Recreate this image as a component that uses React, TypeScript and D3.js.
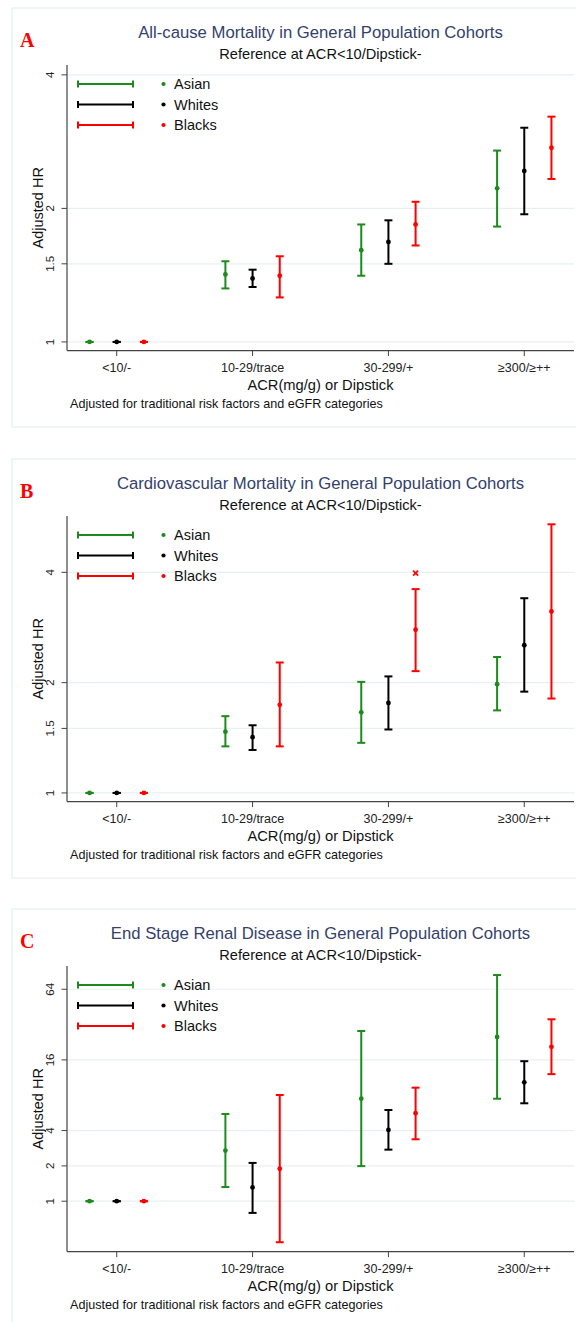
import React from "react";
import * as d3 from "d3";

// categories and series
const categories = ["<10/-", "10-29/trace", "30-299/+", "≥300/≥++"];
const seriesNames = ["Asian", "Whites", "Blacks"];
const seriesColors = ["#1c8a1c", "#000000", "#ff0000"];

// A: all-cause mortality
const aAsianHr = [1, 1.42, 1.61, 2.22];
const aAsianLo = [1, 1.32, 1.41, 1.82];
const aAsianHi = [1, 1.52, 1.84, 2.7];
const aWhitesHr = [1, 1.39, 1.68, 2.43];
const aWhitesLo = [1, 1.33, 1.5, 1.94];
const aWhitesHi = [1, 1.455, 1.88, 3.04];
const aBlacksHr = [1, 1.41, 1.84, 2.74];
const aBlacksLo = [1, 1.26, 1.65, 2.33];
const aBlacksHi = [1, 1.56, 2.07, 3.22];
const aTicks = [1, 1.5, 2, 4];
const aDomain = [0.956, 4.21];

// B: cardiovascular mortality
const bAsianHr = [1, 1.47, 1.66, 1.98];
const bAsianLo = [1, 1.34, 1.37, 1.68];
const bAsianHi = [1, 1.62, 2.01, 2.35];
const bWhitesHr = [1, 1.42, 1.76, 2.53];
const bWhitesLo = [1, 1.31, 1.49, 1.89];
const bWhitesHi = [1, 1.53, 2.08, 3.4];
const bBlacksHr = [1, 1.74, 2.79, 3.13];
const bBlacksLo = [1, 1.34, 2.15, 1.81];
const bBlacksHi = [1, 2.27, 3.6, 5.41];
const bOutlier = [{ cat: 2, series: 2, value: 3.98 }];
const bTicks = [1, 1.5, 2, 4];
const bDomain = [0.947, 5.7];

// C: end stage renal disease
const cAsianHr = [1, 2.7, 7.47, 25.1];
const cAsianLo = [1, 1.32, 1.99, 7.47];
const cAsianHi = [1, 5.54, 28.2, 84.6];
const cWhitesHr = [1, 1.31, 4.05, 10.3];
const cWhitesLo = [1, 0.795, 2.75, 6.83];
const cWhitesHi = [1, 2.12, 5.99, 15.6];
const cBlacksHr = [1, 1.89, 5.62, 20.7];
const cBlacksLo = [1, 0.447, 3.37, 12.1];
const cBlacksHi = [1, 8.04, 9.28, 35.5];
const cTicks = [1, 2, 4, 16, 64];
const cDomain = [0.372, 101];

const panels = [
  {
    letter: "A",
    title: "All-cause Mortality in General Population Cohorts",
    hr: [aAsianHr, aWhitesHr, aBlacksHr],
    lo: [aAsianLo, aWhitesLo, aBlacksLo],
    hi: [aAsianHi, aWhitesHi, aBlacksHi],
    ticks: aTicks,
    domain: aDomain,
    extra: [] as { cat: number; series: number; value: number }[],
    top: 8,
  },
  {
    letter: "B",
    title: "Cardiovascular Mortality in General Population Cohorts",
    hr: [bAsianHr, bWhitesHr, bBlacksHr],
    lo: [bAsianLo, bWhitesLo, bBlacksLo],
    hi: [bAsianHi, bWhitesHi, bBlacksHi],
    ticks: bTicks,
    domain: bDomain,
    extra: bOutlier,
    top: 459,
  },
  {
    letter: "C",
    title: "End Stage Renal Disease in General Population Cohorts",
    hr: [cAsianHr, cWhitesHr, cBlacksHr],
    lo: [cAsianLo, cWhitesLo, cBlacksLo],
    hi: [cAsianHi, cWhitesHi, cBlacksHi],
    ticks: cTicks,
    domain: cDomain,
    extra: [] as { cat: number; series: number; value: number }[],
    top: 909,
  },
];

const font = "'Liberation Sans', Arial, sans-serif";
const W = 576;
const H = 1322;
const left = 67;
const right = 574;

function Panel(props: any) {
  const p = props.panel;
  const axisTop = p.top + 57;
  const axisBottom = p.top + 342.6;

  const x = d3.scaleLinear().domain([0.634, 4.366]).range([left, right]);
  const y = d3.scaleLog().domain(p.domain).range([axisBottom, axisTop]);
  const offset = 0.2;
  const cap = 4;
  const fmt = (v: number) => String(v);

  return (
    <g>
      <rect x={12} y={p.top} width={600} height={419} fill="white" stroke="#e6eef1" strokeWidth={1.2} />
      <text x={20} y={p.top + 39} fill="#ff0000" fontFamily="'Liberation Serif', serif" fontWeight="bold" fontSize={20}>
        {p.letter}
      </text>
      <text x={(left + right) / 2} y={p.top + 30} textAnchor="middle" fill="#34416b" fontFamily={font} fontSize={16.7}>
        {p.title}
      </text>
      <text x={(left + right) / 2} y={p.top + 50.5} textAnchor="middle" fill="#111" fontFamily={font} fontSize={14.6}>
        Reference at ACR&lt;10/Dipstick-
      </text>

      {/* grid and y axis */}
      {p.ticks.map((t: number) => (
        <g key={t}>
          <line x1={left} x2={right} y1={y(t)} y2={y(t)} stroke="#e6f0f3" strokeWidth={1.2} />
          <line x1={left - 5.5} x2={left} y1={y(t)} y2={y(t)} stroke="#444" strokeWidth={1} />
          <text
            transform={`translate(${left - 13},${y(t)}) rotate(-90)`}
            textAnchor="middle"
            fill="#222"
            fontFamily={font}
            fontSize={11.5}
          >
            {fmt(t)}
          </text>
        </g>
      ))}
      <line x1={left} x2={left} y1={axisTop} y2={axisBottom} stroke="#444" strokeWidth={1.2} />
      <line x1={left} x2={right} y1={axisBottom} y2={axisBottom} stroke="#444" strokeWidth={1.2} />
      <text
        transform={`translate(43,${(axisTop + axisBottom) / 2}) rotate(-90)`}
        textAnchor="middle"
        fill="#111"
        fontFamily={font}
        fontSize={14.5}
      >
        Adjusted HR
      </text>

      {/* x axis */}
      {categories.map((c, i) => (
        <g key={c}>
          <line x1={x(i + 1)} x2={x(i + 1)} y1={axisBottom} y2={axisBottom + 5.5} stroke="#444" strokeWidth={1} />
          <text x={x(i + 1)} y={axisBottom + 21} textAnchor="middle" fill="#222" fontFamily={font} fontSize={12.5}>
            {c}
          </text>
        </g>
      ))}
      <text x={(left + right) / 2} y={axisBottom + 39.5} textAnchor="middle" fill="#111" fontFamily={font} fontSize={14.7}>
        ACR(mg/g) or Dipstick
      </text>
      <text x={70} y={axisBottom + 57.5} fill="#111" fontFamily={font} fontSize={12.6}>
        Adjusted for traditional risk factors and eGFR categories
      </text>

      {/* error bars */}
      {seriesNames.map((s, si) =>
        categories.map((c, ci) => {
          const cx = x(ci + 1 + (si - 1) * offset);
          const lo = y(p.lo[si][ci]);
          const hi = y(p.hi[si][ci]);
          const col = seriesColors[si];
          return (
            <g key={s + c}>
              <line x1={cx} x2={cx} y1={lo} y2={hi} stroke={col} strokeWidth={2} />
              <line x1={cx - cap} x2={cx + cap} y1={lo} y2={lo} stroke={col} strokeWidth={2} />
              <line x1={cx - cap} x2={cx + cap} y1={hi} y2={hi} stroke={col} strokeWidth={2} />
              <circle cx={cx} cy={y(p.hr[si][ci])} r={2.4} fill={col} />
            </g>
          );
        })
      )}
      {p.extra.map((e: any, i: number) => {
        const cx = x(e.cat + 1 + (e.series - 1) * offset);
        const cy = y(e.value);
        const col = seriesColors[e.series];
        return (
          <g key={"x" + i} stroke={col} strokeWidth={1.6}>
            <line x1={cx - 2.5} x2={cx + 2.5} y1={cy - 2.5} y2={cy + 2.5} />
            <line x1={cx - 2.5} x2={cx + 2.5} y1={cy + 2.5} y2={cy - 2.5} />
          </g>
        );
      })}

      {/* legend */}
      {seriesNames.map((s, si) => {
        const ly = axisTop + 19 + si * 20.5;
        const col = seriesColors[si];
        return (
          <g key={"leg" + s}>
            <line x1={78} x2={133} y1={ly} y2={ly} stroke={col} strokeWidth={2} />
            <line x1={78} x2={78} y1={ly - 3.5} y2={ly + 3.5} stroke={col} strokeWidth={2} />
            <line x1={133} x2={133} y1={ly - 3.5} y2={ly + 3.5} stroke={col} strokeWidth={2} />
            <circle cx={163.5} cy={ly} r={2.1} fill={col} />
            <text x={174} y={ly + 5} fill="#111" fontFamily={font} fontSize={14.5}>
              {s}
            </text>
          </g>
        );
      })}
    </g>
  );
}

export default function App() {
  return (
    <svg width={W} height={H} style={{ position: "absolute", left: 0, top: 0, background: "white" }}>
      <rect width={W} height={H} fill="white" />
      {panels.map((p) => (
        <Panel key={p.letter} panel={p} />
      ))}
    </svg>
  );
}
